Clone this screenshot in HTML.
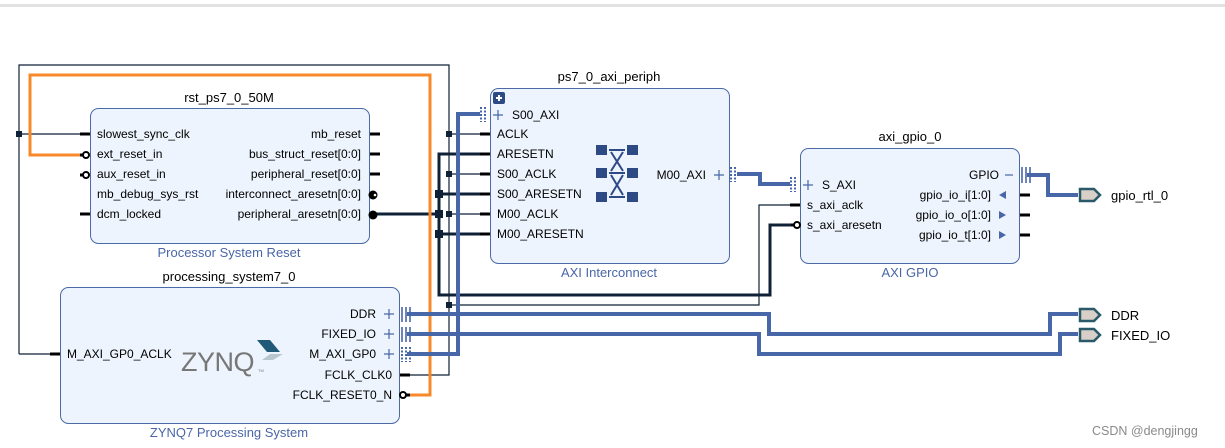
<!DOCTYPE html>
<html><head><meta charset="utf-8"><style>
html,body{margin:0;padding:0;background:#fff;}
svg{display:block;}
text{font-family:"Liberation Sans",sans-serif;}
.p{font-size:12px;fill:#000;}
.t{font-size:13px;fill:#000;}
.s{font-size:13px;fill:#4a66a8;}
</style></head><body>
<svg width="1225" height="448" viewBox="0 0 1225 448" xmlns="http://www.w3.org/2000/svg">
<rect x="0" y="4" width="1225" height="3" fill="#e2e2e2"/>
<rect x="90.5" y="108.5" width="279" height="135" rx="8" fill="#edf4fd" stroke="#4a6aa8"/>
<rect x="490.5" y="88.5" width="239" height="175" rx="8" fill="#edf4fd" stroke="#4a6aa8"/>
<rect x="800.5" y="148.5" width="219" height="115" rx="8" fill="#edf4fd" stroke="#4a6aa8"/>
<rect x="60.5" y="287.5" width="339" height="136" rx="8" fill="#edf4fd" stroke="#4a6aa8"/>

<g fill="none" stroke="#0f2137" stroke-width="1.2">
<path d="M19 354 V65 H449 V375 H405"/>
<path d="M19 134 H85"/>
<path d="M19 354 H55"/>
<path d="M449 134 H485 M449 174 H485 M449 214 H485"/>
<path d="M449 305 H759 V205 H795"/>
</g>
<g fill="#0f2137">
<rect x="16" y="131" width="6" height="6"/>
<rect x="446" y="131" width="6" height="6"/>
<rect x="446" y="171" width="6" height="6"/>
<rect x="446" y="211" width="6" height="6"/>
<rect x="446" y="302" width="6" height="6"/>
</g>
<g fill="none" stroke="#0f2137" stroke-width="3">
<path d="M375 214 H439"/>
<path d="M485 154 H439 V295 H770 V225 H795"/>
<path d="M439 194 H485 M439 234 H485"/>
</g>
<g fill="#0f2137">
<rect x="435" y="190" width="8" height="8"/>
<rect x="435" y="210" width="8" height="8"/>
<rect x="435" y="230" width="8" height="8"/>
</g>
<path d="M405 395 H430 V75 H30 V155 H85" fill="none" stroke="#f7892b" stroke-width="3"/>
<g fill="none" stroke="#4767a8" stroke-width="4">
<path d="M407 354 H458 V114 H480"/>
<path d="M407 314 H769 V334 H1050 V314 H1078"/>
<path d="M407 334 H759 V354 H1060 V334 H1078"/>
<path d="M737 174 H760 V184 H790"/>
<path d="M1027 175 H1048 V195 H1078"/>
</g>
<g stroke="#000" stroke-width="3">
<path d="M80 134 H90 M80 214 H90"/>
<path d="M370 134 H380 M370 154 H380 M370 174 H380"/>
<path d="M480 134 H490 M480 154 H490 M480 174 H490 M480 194 H490 M480 214 H490 M480 234 H490"/>
<path d="M790 205 H800"/>
<path d="M1020 195 H1030 M1020 215 H1030 M1020 235 H1030"/>
<path d="M50 354 H60"/>
<path d="M400 375 H410"/>
</g>
<g stroke="#000" stroke-width="2" fill="#fff">
<circle cx="86" cy="155" r="3"/><circle cx="86" cy="175" r="3"/>
<circle cx="797" cy="225" r="3"/>
<circle cx="403" cy="395" r="3"/>
</g>
<g stroke="#000" stroke-width="3"><path d="M80 155 H83 M80 175 H83 M791 225 H794 M406 395 H410"/></g>
<circle cx="373" cy="195" r="4.5" fill="#000"/><circle cx="373" cy="215" r="4.5" fill="#000"/>
<circle cx="375" cy="195" r="1.3" fill="#fff"/>
<g stroke="#4767a8" stroke-width="1.6">
<path d="M402 307 V322 M406 307 V322 M410 307 V322"/>
<path d="M402 327 V342 M406 327 V342 M410 327 V342"/>
<path d="M1022 167 V183 M1026 167 V183 M1030 167 V183"/>
</g>
<g stroke="#4767a8" stroke-width="2" stroke-dasharray="2,1.5">
<path d="M402 347 V362 M406 347 V362 M410 347 V362"/>
<path d="M481 107 V122 M485 107 V122"/>
<path d="M731 167 V182 M735 167 V182"/>
<path d="M791 177 V192 M795 177 V192"/>
</g>
<g stroke="#4767a8" stroke-width="1.2">
<path d="M384 314 H394 M389 309 V319"/>
<path d="M384 334 H394 M389 329 V339"/>
<path d="M384 354 H394 M389 349 V359"/>
<path d="M493 115 H503 M498 110 V120"/>
<path d="M714 175 H724 M719 170 V180"/>
<path d="M803 185 H813 M808 180 V190"/>
<path d="M1005 175 H1013"/>
</g>
<rect x="493" y="92" width="12" height="12" rx="2" fill="#2e4a85"/>
<path d="M499 95 V101 M496 98 H502" stroke="#fff" stroke-width="2"/>
<g fill="#4767a8">
<path d="M999 195 L1006 191 V199Z"/>
<path d="M999 211 L1006 215 L999 219Z"/>
<path d="M999 231 L1006 235 L999 239Z"/>
</g>
<g fill="#2e4a85">
<rect x="596" y="145" width="11" height="10"/><rect x="627" y="145" width="11" height="10"/>
<rect x="596" y="168" width="11" height="10"/><rect x="627" y="168" width="11" height="10"/>
<rect x="596" y="192" width="11" height="10"/><rect x="627" y="192" width="11" height="10"/>
</g>
<g stroke="#2e4a85" stroke-width="2" fill="none">
<path d="M609 150 H625 M609 173 H625 M609 197 H625"/>
<path d="M611 152 L623 171 M623 152 L611 171 M611 175 L623 195 M623 175 L611 195"/>
</g>
<g fill="#d8cfc8" stroke="#2a5a6a" stroke-width="2.5">
<path d="M1080 189 H1094 L1100 195 L1094 201 H1080Z"/>
<path d="M1080 309 H1094 L1100 315 L1094 321 H1080Z"/>
<path d="M1080 329 H1094 L1100 335 L1094 341 H1080Z"/>
</g>
<text class="t" x="1111" y="200">gpio_rtl_0</text>
<text class="t" x="1111" y="320">DDR</text>
<text class="t" x="1111" y="340">FIXED_IO</text>
<text class="t" x="229" y="102" text-anchor="middle">rst_ps7_0_50M</text>
<text class="s" x="229" y="257" text-anchor="middle">Processor System Reset</text>
<text class="t" x="609" y="81" text-anchor="middle">ps7_0_axi_periph</text>
<text class="s" x="609" y="277" text-anchor="middle">AXI Interconnect</text>
<text class="t" x="910" y="141" text-anchor="middle">axi_gpio_0</text>
<text class="s" x="910" y="277" text-anchor="middle">AXI GPIO</text>
<text class="t" x="229" y="281" text-anchor="middle">processing_system7_0</text>
<text class="s" x="229" y="437" text-anchor="middle">ZYNQ7 Processing System</text>
<text class="p" x="97" y="138">slowest_sync_clk</text>
<text class="p" x="97" y="158">ext_reset_in</text>
<text class="p" x="97" y="178">aux_reset_in</text>
<text class="p" x="97" y="198">mb_debug_sys_rst</text>
<text class="p" x="97" y="218">dcm_locked</text>
<g text-anchor="end">
<text class="p" x="361" y="138">mb_reset</text>
<text class="p" x="361" y="158">bus_struct_reset[0:0]</text>
<text class="p" x="361" y="178">peripheral_reset[0:0]</text>
<text class="p" x="361" y="198">interconnect_aresetn[0:0]</text>
<text class="p" x="361" y="218">peripheral_aresetn[0:0]</text>
<text class="p" x="706" y="179">M00_AXI</text>
<text class="p" x="999" y="179">GPIO</text>
<text class="p" x="991" y="199">gpio_io_i[1:0]</text>
<text class="p" x="991" y="219">gpio_io_o[1:0]</text>
<text class="p" x="991" y="239">gpio_io_t[1:0]</text>
<text class="p" x="376" y="318">DDR</text>
<text class="p" x="376" y="338">FIXED_IO</text>
<text class="p" x="376" y="358">M_AXI_GP0</text>
<text class="p" x="392" y="379">FCLK_CLK0</text>
<text class="p" x="392" y="399">FCLK_RESET0_N</text>
</g>
<text class="p" x="512" y="119">S00_AXI</text>
<text class="p" x="497" y="138">ACLK</text>
<text class="p" x="497" y="158">ARESETN</text>
<text class="p" x="497" y="178">S00_ACLK</text>
<text class="p" x="497" y="198">S00_ARESETN</text>
<text class="p" x="497" y="218">M00_ACLK</text>
<text class="p" x="497" y="238">M00_ARESETN</text>
<text class="p" x="822" y="189">S_AXI</text>
<text class="p" x="807" y="209">s_axi_aclk</text>
<text class="p" x="807" y="229">s_axi_aresetn</text>
<text class="p" x="67" y="358">M_AXI_GP0_ACLK</text>
<text x="181" y="371" style="font-size:27px;fill:#777;letter-spacing:-0.5px">ZYNQ</text>
<text x="258" y="372" style="font-size:4px;fill:#777">TM</text>
<path d="M257 340 H270 L280 352 H267Z" fill="#1f5a78"/>
<path d="M270 354 H283 L273 360 H262Z" fill="#b9c6d0"/>
<text x="1092" y="435" style="font-size:12.5px;fill:#8a8a8a">CSDN @dengjingg</text>
</svg>
</body></html>
